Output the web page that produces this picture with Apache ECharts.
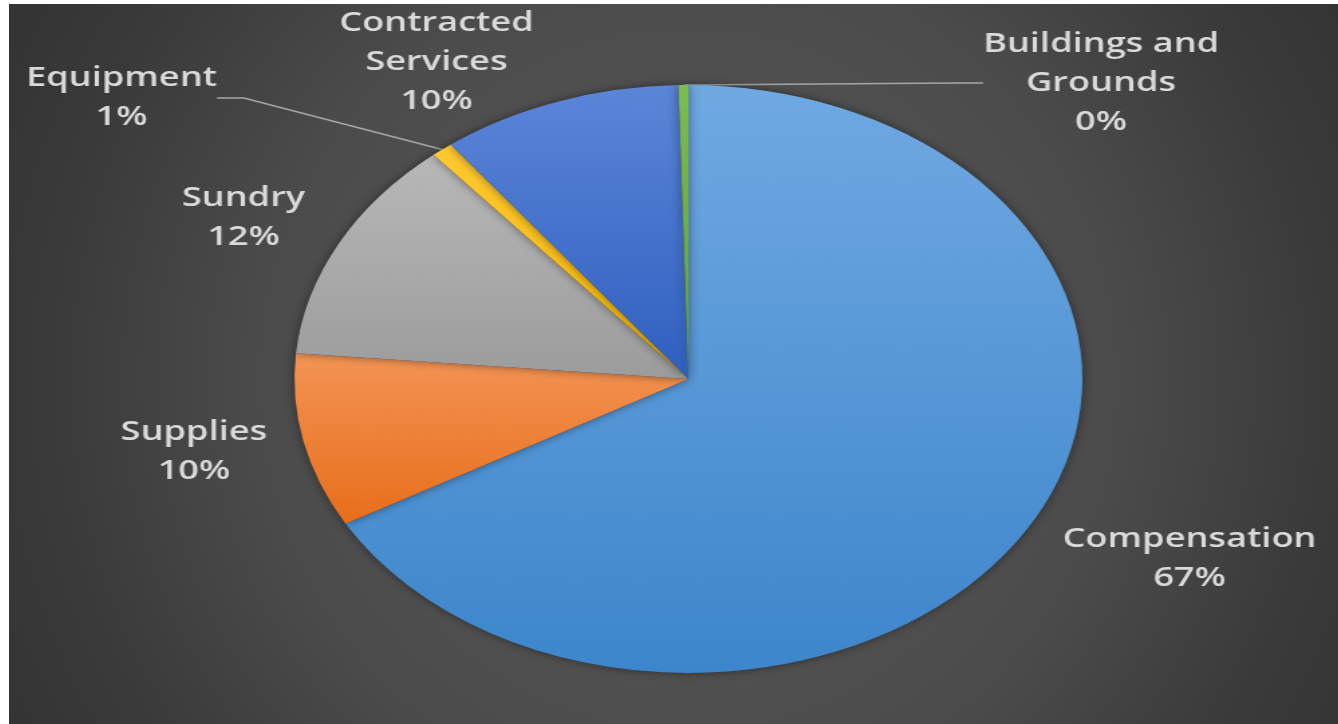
<!DOCTYPE html>
<html>
<head>
<meta charset="utf-8">
<script src="https://cdn.jsdelivr.net/npm/echarts@6/dist/echarts.min.js"></script>
<style>
html,body{margin:0;padding:0;background:#ffffff;width:1338px;height:724px;overflow:hidden}
#wrap{position:absolute;left:9px;top:4px;width:1329px;height:720px;overflow:hidden;
  background:radial-gradient(circle at 679px 375px,#5a5a5a 0px,#4b4b4b 430px,#3a3a3a 640px,#343434 760px)}
#chart{position:absolute;left:0;top:0;width:992px;height:720px;transform:scaleX(1.34);transform-origin:0 0}
</style>
</head>
<body>
<div id="wrap"><div id="chart"></div></div>
<script>
// ---- data ----
const categories = ['Compensation', 'Supplies', 'Sundry', 'Equipment', 'Contracted Services', 'Buildings and Grounds'];
const displayNames = ['Compensation', 'Supplies', 'Sundry', 'Equipment', 'Contracted\nServices', 'Buildings and\nGrounds'];
const values = [66.8, 9.6, 12.4, 0.9, 9.9, 0.4];

// ---- styling ----
const colorTop    = ['#70a9e2', '#f39455', '#b8b8b8', '#ffc933', '#5b86d8', '#7cbd52'];
const colorBottom = ['#3d86cb', '#e86e1a', '#9c9c9c', '#f5b800', '#2f5fbf', '#5e9e36'];
const showLine    = [false, false, false, true, false, true];
// label block centres (chart pixel space, before the horizontal stretch)
const labelAt = [[881, 555], [138, 448], [175, 214], [84, 94], [319, 58], [815, 79]];

const chart = echarts.init(document.getElementById('chart'), null, {renderer: 'canvas'});

const seriesData = categories.map((c, i) => ({
  name: c,
  value: values[i],
  itemStyle: {
    color: {
      type: 'linear', x: 0, y: 0, x2: 0, y2: 1,
      colorStops: [{offset: 0, color: colorTop[i]}, {offset: 1, color: colorBottom[i]}]
    }
  },
  labelLine: {show: showLine[i]}
}));

chart.setOption({
  backgroundColor: 'transparent',
  animation: false,
  series: [{
    type: 'pie',
    center: [507, 375],
    radius: 294,
    startAngle: 90,
    clockwise: true,
    percentPrecision: 0,
    avoidLabelOverlap: false,
    silent: true,
    data: seriesData,
    itemStyle: {
      shadowBlur: 8,
      shadowColor: 'rgba(0,0,0,0.45)'
    },
    label: {
      show: true,
      position: 'outside',
      formatter: p => displayNames[p.dataIndex] + '\n' + p.percent + '%',
      fontFamily: '"Open Sans", sans-serif',
      fontSize: 27,
      fontWeight: 600,
      lineHeight: 39,
      color: '#dadada',
      align: 'center'
    },
    labelLine: {
      length: 20,
      length2: 20,
      lineStyle: {color: '#a6a6a6', width: 1.5}
    },
    labelLayout: function (params) {
      const p = labelAt[params.dataIndex];
      return {x: p[0], y: p[1], align: 'center', verticalAlign: 'middle'};
    }
  }]
});
</script>
</body>
</html>
